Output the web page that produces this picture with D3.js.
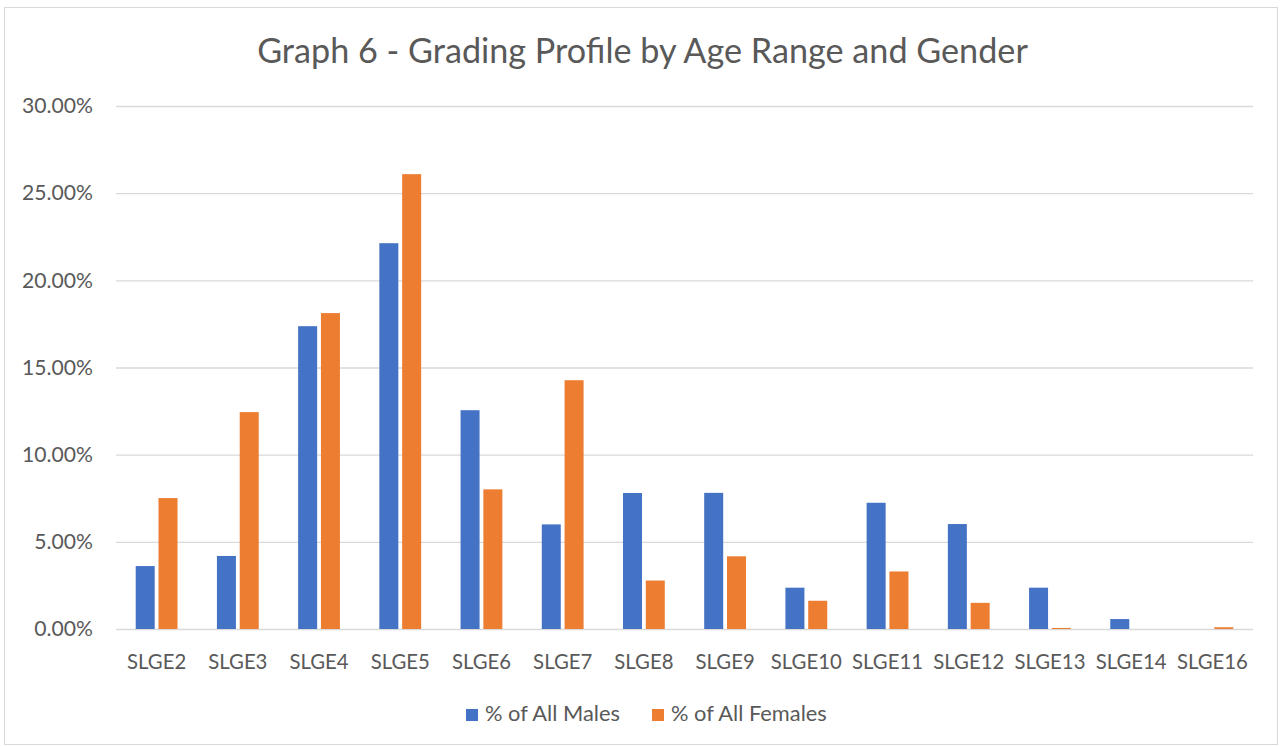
<!DOCTYPE html>
<html>
<head>
<meta charset="utf-8">
<script src="https://cdn.jsdelivr.net/npm/d3@7"></script>
<style>
  body { margin: 0; background: #fff; }
  text { font-family: Lato, "Open Sans", sans-serif; fill: #595959; }
</style>
</head>
<body>
<svg id="chart" width="1281" height="746"></svg>
<script>
// chart data
const categories = ["SLGE2", "SLGE3", "SLGE4", "SLGE5", "SLGE6", "SLGE7", "SLGE8",
                    "SLGE9", "SLGE10", "SLGE11", "SLGE12", "SLGE13", "SLGE14", "SLGE16"];
const males   = [3.61, 4.19, 17.37, 22.13, 12.55, 6.00, 7.80, 7.81, 2.37, 7.24, 6.02, 2.37, 0.57, 0.00];
const females = [7.51, 12.44, 18.12, 26.09, 8.01, 14.27, 2.78, 4.17, 1.62, 3.30, 1.50, 0.06, 0.00, 0.10];
const seriesNames = ["% of All Males", "% of All Females"];
const seriesColors = ["#4472C4", "#ED7D31"];
const yTicks = [0, 5, 10, 15, 20, 25, 30];
const title = "Graph 6 - Grading Profile by Age Range and Gender";

const svg = d3.select("#chart");
const margin = {left: 116, right: 28, top: 106, bottom: 117};
const W = 1281, H = 746;

// light frame round the chart
svg.append("rect")
    .attr("x", 4.5).attr("y", 7.5)
    .attr("width", W - 8).attr("height", H - 9)
    .attr("fill", "none").attr("stroke", "#d9d9d9");

let x = d3.scaleBand()
    .domain(categories)
    .range([margin.left, W - margin.right]);

let y = d3.scaleLinear()
    .domain([0, 30])
    .range([H - margin.bottom, margin.top]);

// fit a text to a wanted width by changing its font size
function fitText(sel, width) {
    let w = sel.node().getComputedTextLength();
    let fs = parseFloat(sel.attr("font-size"));
    sel.attr("font-size", fs * width / w);
}

// title
let t = svg.append("text")
    .attr("x", 642.5).attr("y", 63)
    .attr("text-anchor", "middle")
    .attr("font-size", 28)
    .text(title);
fitText(t, 771);

// grid lines and y labels
let yAxis = d3.axisLeft(y)
    .tickValues(yTicks)
    .tickSize(-(W - margin.left - margin.right))
    .tickPadding(23)
    .tickFormat(d => d.toFixed(2) + "%");

let yG = svg.append("g")
    .attr("transform", `translate(${margin.left},0)`)
    .call(yAxis);
yG.select(".domain").remove();
yG.selectAll(".tick line").attr("stroke", "#d9d9d9").attr("stroke-width", 1.3);
yG.selectAll(".tick text")
    .attr("font-size", 18)
    .attr("fill", "#595959")
    .attr("font-family", "Lato, sans-serif");
fitText(yG.selectAll(".tick text").filter(d => d == 30), 71);
let yfs = yG.selectAll(".tick text").filter(d => d == 30).attr("font-size");
yG.selectAll(".tick text").attr("font-size", yfs);

// x labels
let xAxis = d3.axisBottom(x).tickSize(0).tickPadding(26);
let xG = svg.append("g")
    .attr("transform", `translate(0,${H - margin.bottom})`)
    .call(xAxis);
xG.select(".domain").remove();
xG.selectAll(".tick text")
    .attr("font-size", 18)
    .attr("fill", "#595959")
    .attr("font-family", "Lato, sans-serif");
fitText(xG.selectAll(".tick text").filter(d => d == "SLGE10"), 71);
let xfs = xG.selectAll(".tick text").filter(d => d == "SLGE10").attr("font-size");
xG.selectAll(".tick text").attr("font-size", xfs);

// bars
let barW = x.bandwidth() * 19 / 81.2;
let gap = barW * 0.2;
let groupW = barW * 2 + gap;

let rows = categories.map((c, i) => ({cat: c, vals: [males[i], females[i]]}));

let groups = svg.append("g").selectAll("g")
    .data(rows).enter()
    .append("g")
    .attr("transform", d => `translate(${x(d.cat) + x.bandwidth() / 2 - groupW / 2},0)`);

groups.selectAll("rect")
    .data(d => d.vals.map((v, k) => ({v: v, k: k})))
    .enter()
    .append("rect")
    .attr("x", d => d.k * (barW + gap))
    .attr("y", d => y(d.v))
    .attr("width", barW)
    .attr("height", d => y(0) - y(d.v))
    .attr("fill", d => seriesColors[d.k]);

// legend
let legendX = [466, 652];
let legend = svg.append("g").selectAll("g")
    .data(seriesNames).enter()
    .append("g")
    .attr("transform", (d, i) => `translate(${legendX[i]},709)`);

legend.append("rect")
    .attr("width", 12).attr("height", 12)
    .attr("fill", (d, i) => seriesColors[i]);

legend.append("text")
    .attr("x", 19).attr("y", 12)
    .attr("font-size", 18)
    .text(d => d);
fitText(legend.selectAll("text").filter(d => d == seriesNames[0]), 135);
let lfs = legend.selectAll("text").filter(d => d == seriesNames[0]).attr("font-size");
legend.selectAll("text").attr("font-size", lfs);
</script>
</body>
</html>
